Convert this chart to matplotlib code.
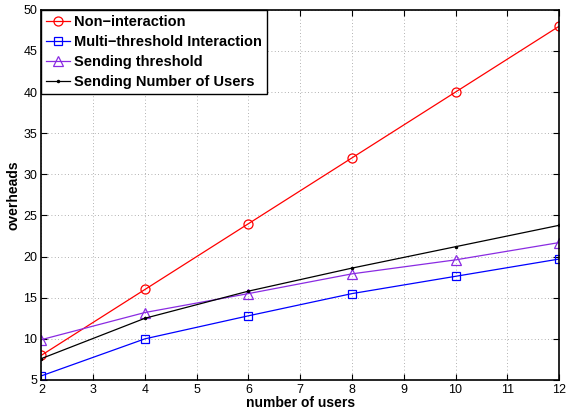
import matplotlib
matplotlib.use("Agg")
import matplotlib.pyplot as plt

plt.rcParams["font.family"] = ["Liberation Sans", "DejaVu Sans"]

users = [2, 4, 6, 8, 10, 12]
non_interaction = [8, 16, 24, 32, 40, 48]
multi_threshold = [5.5, 10, 12.8, 15.5, 17.6, 19.7]
sending_threshold = [9.9, 13.2, 15.5, 17.9, 19.6, 21.7]
sending_users = [7.6, 12.5, 15.8, 18.6, 21.2, 23.8]

fig = plt.figure(figsize=(5.67, 4.09), dpi=100)
ax = fig.add_axes([0.073, 0.071, 0.913, 0.905])

ax.plot(users, non_interaction, color="#ff0000", lw=0.9, marker="o", ms=6.5,
        mfc="none", mew=0.9, label="Non\u2212interaction")
ax.plot(users, multi_threshold, color="#0000ff", lw=0.9, marker="s", ms=5.5,
        mfc="none", mew=0.9, label="Multi\u2212threshold Interaction")
ax.plot(users, sending_threshold, color="#8a2be2", lw=0.9, marker="^", ms=7,
        mfc="none", mew=0.9, label="Sending threshold")
ax.plot(users, sending_users, color="black", lw=0.9, marker=".", ms=3,
        label="Sending Number of Users")

ax.set_xlim(2, 12)
ax.set_ylim(5, 50)
ax.set_xticks(range(2, 13))
ax.set_yticks(range(5, 51, 5))
ax.grid(True, ls=(0, (1, 3)), color="#999999", lw=0.6)
ax.tick_params(direction="in", labelsize=9, length=4, width=0.8, pad=3,
               top=True, right=True)
for sp in ax.spines.values():
    sp.set_linewidth(1.2)

ax.set_xlabel("number of users", fontsize=10, fontweight="bold", labelpad=0)
ax.set_ylabel("overheads", fontsize=10, fontweight="bold", labelpad=2)

leg = ax.legend(loc="upper left", borderaxespad=0, fancybox=False,
                edgecolor="black", framealpha=1, handlelength=1.6,
                handletextpad=0.3, borderpad=0.35, labelspacing=0.42,
                prop={"weight": "bold", "size": 10.5})
leg.get_frame().set_linewidth(1.0)

fig.savefig("out.png", dpi=100)
